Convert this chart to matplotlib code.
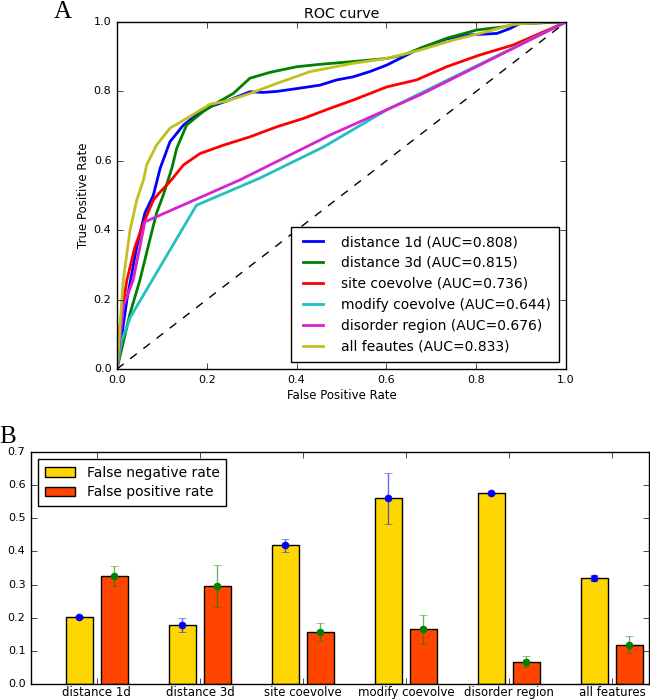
import matplotlib
matplotlib.use("Agg")
import matplotlib.pyplot as plt
import numpy as np

plt.style.use("classic")
plt.rcParams["font.family"] = ["DejaVu Sans"]

# ---------------- ROC data ----------------
d1_fpr = [0, 0.022, 0.044, 0.062, 0.081, 0.096, 0.118, 0.148, 0.177, 0.207, 0.244, 0.296, 0.326, 0.356, 0.40,
          0.452, 0.489, 0.526, 0.563, 0.601, 0.638, 0.675, 0.734, 0.786, 0.846, 0.875, 0.898, 1.0]
d1_tpr = [0, 0.199, 0.352, 0.449, 0.501, 0.578, 0.655, 0.703, 0.732, 0.756, 0.772, 0.799, 0.797, 0.80, 0.808,
          0.818, 0.833, 0.842, 0.857, 0.876, 0.90, 0.924, 0.951, 0.963, 0.967, 0.981, 0.996, 1.0]

d3_fpr = [0, 0.029, 0.051, 0.073, 0.088, 0.103, 0.122, 0.133, 0.155, 0.192, 0.229, 0.259, 0.296, 0.341, 0.40,
          0.452, 0.526, 0.601, 0.638, 0.675, 0.734, 0.801, 0.861, 0.898, 1.0]
d3_tpr = [0, 0.16, 0.256, 0.372, 0.449, 0.501, 0.578, 0.636, 0.703, 0.742, 0.772, 0.794, 0.838, 0.855, 0.871,
          0.878, 0.886, 0.895, 0.905, 0.924, 0.953, 0.977, 0.986, 0.996, 1.0]

site_fpr = [0, 0.007, 0.022, 0.04, 0.059, 0.081, 0.096, 0.118, 0.148, 0.185, 0.237, 0.296, 0.356, 0.415, 0.474,
            0.526, 0.601, 0.667, 0.734, 0.808, 0.883, 1.0]
site_tpr = [0, 0.13, 0.256, 0.352, 0.42, 0.487, 0.51, 0.54, 0.588, 0.621, 0.645, 0.669, 0.698, 0.722, 0.751,
            0.775, 0.813, 0.833, 0.871, 0.905, 0.934, 1.0]

modify_fpr = [0, 0.01, 0.03, 0.177, 0.318, 0.46, 0.601, 1.0]
modify_tpr = [0, 0.08, 0.15, 0.472, 0.55, 0.64, 0.747, 1.0]

disorder_fpr = [0, 0.014, 0.036, 0.051, 0.062, 0.274, 0.474, 0.675, 1.0]
disorder_tpr = [0, 0.18, 0.256, 0.352, 0.424, 0.545, 0.674, 0.79, 1.0]

all_fpr = [0, 0.005, 0.014, 0.029, 0.044, 0.059, 0.066, 0.088, 0.118, 0.155, 0.207, 0.244, 0.296, 0.356, 0.43,
           0.474, 0.526, 0.601, 0.675, 0.749, 0.823, 0.883, 0.956, 1.0]
all_tpr = [0, 0.093, 0.256, 0.40, 0.487, 0.545, 0.588, 0.645, 0.694, 0.722, 0.763, 0.772, 0.794, 0.823, 0.857,
           0.868, 0.881, 0.895, 0.919, 0.948, 0.972, 0.993, 1.0, 1.0]

roc_labels = ["distance 1d (AUC=0.808)", "distance 3d (AUC=0.815)", "site coevolve (AUC=0.736)",
              "modify coevolve (AUC=0.644)", "disorder region (AUC=0.676)", "all feautes (AUC=0.833)"]

# ---------------- Bar data ----------------
categories = ["distance 1d", "distance 3d", "site coevolve", "modify coevolve", "disorder region", "all features"]
fnr = [0.201, 0.178, 0.418, 0.560, 0.575, 0.320]
fnr_err = [0.003, 0.022, 0.020, 0.078, 0.003, 0.010]
fpr_rate = [0.325, 0.296, 0.157, 0.165, 0.067, 0.119]
fpr_err = [0.030, 0.063, 0.028, 0.043, 0.016, 0.025]

fig = plt.figure(figsize=(6.5, 7.0), dpi=100, facecolor="white")

# ---------------- Panel A ----------------
ax1 = fig.add_axes([117 / 650, 1 - 369 / 700, (566 - 117) / 650, (369 - 22) / 700])
ax1.set_facecolor("white")
curves = [(d1_fpr, d1_tpr, "#0000FF"), (d3_fpr, d3_tpr, "#008000"), (site_fpr, site_tpr, "#FF0000"),
          (modify_fpr, modify_tpr, "#22C0C0"), (disorder_fpr, disorder_tpr, "#D822D0"), (all_fpr, all_tpr, "#C0C020")]
for (x, y, c), lab in zip(curves, roc_labels):
    ax1.plot(x, y, color=c, lw=2, label=lab)
ax1.plot([0, 1], [0, 1], "k--", lw=1)
ax1.set_xlim(0, 1)
ax1.set_ylim(0, 1)
ticks = [0.0, 0.2, 0.4, 0.6, 0.8, 1.0]
ax1.set_xticks(ticks)
ax1.set_yticks(ticks)
ax1.set_xticklabels(["%.1f" % t for t in ticks])
ax1.set_yticklabels(["%.1f" % t for t in ticks])
ax1.tick_params(labelsize=8, direction="in", top=True, right=True)
ax1.set_xlabel("False Positive Rate", fontsize=8.5, labelpad=3)
ax1.set_ylabel("True Positive Rate", fontsize=8.5, labelpad=3)
ax1.set_title("ROC curve", fontsize=10.3, pad=3)
leg1 = ax1.legend(loc="lower right", fontsize=10, frameon=True, fancybox=False, borderpad=0.6,
                  labelspacing=0.5, handlelength=2.0, handletextpad=1.0, borderaxespad=0.5)
leg1.get_frame().set_edgecolor("black")
fig.text(63 / 650, 1 - 12 / 700, "A", family="Liberation Serif", fontsize=18, ha="center", va="center")

# ---------------- Panel B ----------------
ax2 = fig.add_axes([31 / 650, 1 - 684 / 700, (649 - 31) / 650, (684 - 452) / 700])
ax2.set_facecolor("white")
ind = np.arange(len(categories))
w = 0.27
ax2.bar(ind - 0.17, fnr, w, color="#FFD700", edgecolor="black", lw=1, label="False negative rate")
ax2.bar(ind + 0.17, fpr_rate, w, color="#FF4500", edgecolor="black", lw=1, label="False positive rate")
ax2.errorbar(ind - 0.17, fnr, yerr=fnr_err, fmt="o", color="b", ms=5, mec="b",
             ecolor=(0, 0, 1, 0.6), capsize=3, elinewidth=1)
ax2.errorbar(ind + 0.17, fpr_rate, yerr=fpr_err, fmt="o", color="g", ms=5, mec="g",
             ecolor=(0, 0.5, 0, 0.6), capsize=3, elinewidth=1)
ax2.set_xlim(-0.64, 5.36)
ax2.set_ylim(0, 0.7)
ax2.set_xticks(ind)
ax2.set_xticklabels(categories, fontsize=8.5)
yt = [0.0, 0.1, 0.2, 0.3, 0.4, 0.5, 0.6, 0.7]
ax2.set_yticks(yt)
ax2.set_yticklabels(["%.1f" % t for t in yt])
ax2.tick_params(axis="y", labelsize=8)
ax2.tick_params(axis="x", pad=1.5)
ax2.tick_params(direction="in", top=True, right=True)
leg2 = ax2.legend(loc="upper left", fontsize=10, frameon=True, fancybox=False, borderpad=0.5,
                  labelspacing=0.4, handlelength=2.2, handletextpad=0.8)
leg2.get_frame().set_edgecolor("black")
fig.text(8 / 650, 1 - 437 / 700, "B", family="Liberation Serif", fontsize=18, ha="center", va="center")

fig.savefig("out.png", dpi=100, facecolor="white")
